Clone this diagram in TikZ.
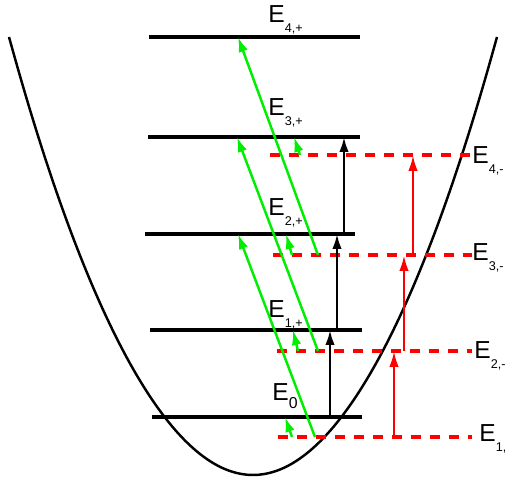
\documentclass[tikz,border=0pt]{standalone}
\usepackage{fontspec}
\setmainfont{Liberation Sans}
\usetikzlibrary{arrows.meta}
\definecolor{lvlred}{HTML}{FF0000}
\definecolor{lvlgreen}{HTML}{00EE00}
\newcommand{\lab}[1]{E\raisebox{-6pt}{\fontsize{7.2}{8}\selectfont #1}}

\begin{document}
\begin{tikzpicture}[
  x=0.02cm, y=-0.02cm,
  font=\fontsize{14}{16}\selectfont,
  plevel/.style={draw=black,line width=1.8pt},
  mlevel/.style={draw=lvlred,line width=1.8pt,dash pattern=on 0.2cm off 0.18cm},
  blkarr/.style={-{Latex[length=3mm,width=1.9mm]},line width=1.4pt,draw=black},
  redarr/.style={-{Latex[length=3.2mm,width=1.9mm]},line width=1.5pt,draw=lvlred},
  grnarr/.style={-{Latex[length=3mm,width=1.9mm]},line width=1.4pt,draw=lvlgreen},
  lbl/.style={anchor=base west,inner sep=0pt}
]
\useasboundingbox (0,0) rectangle (505,477);
% potential well
\draw[line width=1.4pt] (9,37) parabola bend (253,475) (497,37);
% + levels
\coordinate (p0w) at (152,417); \coordinate (p0e) at (362,417);
\coordinate (p1w) at (150,330); \coordinate (p1e) at (362,330);
\coordinate (p2w) at (145,234); \coordinate (p2e) at (355,234);
\coordinate (p3w) at (148,137); \coordinate (p3e) at (360,137);
\coordinate (p4w) at (149,37);  \coordinate (p4e) at (360,37);
\draw[plevel] (p0w) -- (p0e);
\draw[plevel] (p1w) -- (p1e);
\draw[plevel] (p2w) -- (p2e);
\draw[plevel] (p3w) -- (p3e);
\draw[plevel] (p4w) -- (p4e);
% - levels
\coordinate (m1w) at (278,437); \coordinate (m1e) at (472,437);
\coordinate (m2w) at (277,351); \coordinate (m2e) at (472,351);
\coordinate (m3w) at (273,255); \coordinate (m3e) at (472,255);
\coordinate (m4w) at (270,155); \coordinate (m4e) at (470,155);
\draw[mlevel] (m1w) -- (m1e);
\draw[mlevel] (m2w) -- (m2e);
\draw[mlevel] (m3w) -- (m3e);
\draw[mlevel] (m4w) -- (m4e);
% labels
\node[lbl] (e0)  at (272,400) {E\raisebox{-5pt}{\fontsize{9}{10}\selectfont 0}};
\node[lbl] (e1p) at (268,317) {\lab{1,+}};
\node[lbl] (e2p) at (268,215) {\lab{2,+}};
\node[lbl] (e3p) at (268,115) {\lab{3,+}};
\node[lbl] (e4p) at (268,22)  {\lab{4,+}};
\node[lbl] (e1m) at (479,441) {\lab{1,-}};
\node[lbl] (e2m) at (474,358) {\lab{2,-}};
\node[lbl] (e3m) at (472,260) {\lab{3,-}};
\node[lbl] (e4m) at (472,163) {\lab{4,-}};
% transitions
\draw[blkarr] (330,0 |- p0w) -- (330,0 |- p1w);
\draw[blkarr] (337,0 |- p1w) -- (337,0 |- p2w);
\draw[blkarr] (344,0 |- p2w) -- (344,0 |- p3w);
\draw[redarr] (394,0 |- m1w) -- (394,0 |- m2w);
\draw[redarr] (404,0 |- m2w) -- (404,0 |- m3w);
\draw[redarr] (413,0 |- m3w) -- (413,0 |- m4w);
\draw[grnarr] (315,0 |- m1w) -- (238,0 |- p2w);
\draw[grnarr] (318,0 |- m2w) -- (237,0 |- p3w);
\draw[grnarr] (318,0 |- m3w) -- (238,0 |- p4w);
\draw[grnarr] (292,0 |- m1w) -- (285,0 |- p0w);
\draw[grnarr] (298,0 |- m2w) -- (293,0 |- p1w);
\draw[grnarr] (292,0 |- m3w) -- (286,0 |- p2w);
\draw[grnarr] (300,0 |- m4w) -- (294,0 |- p3w);
\end{tikzpicture}
\end{document}
